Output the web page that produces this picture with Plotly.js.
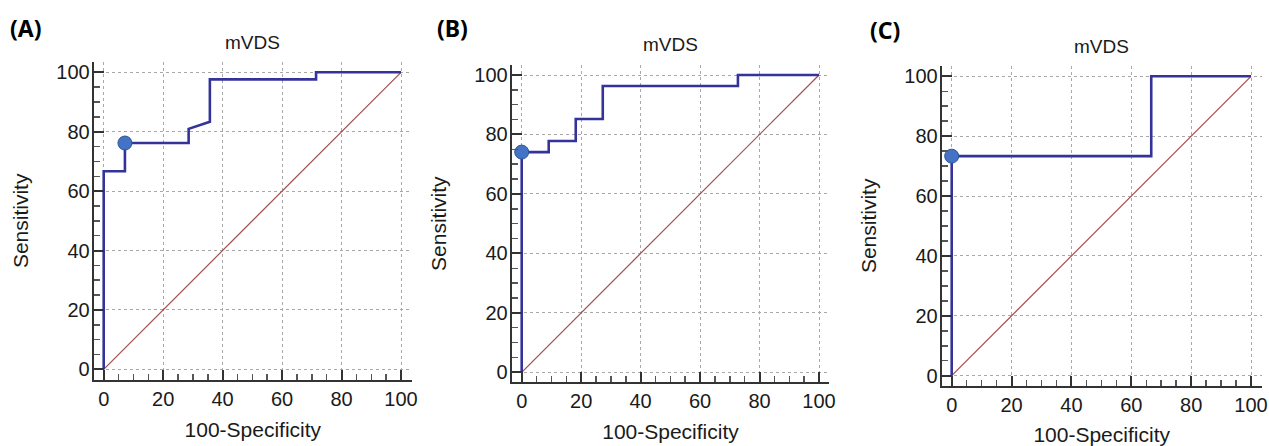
<!DOCTYPE html>
<html>
<head>
<meta charset="utf-8">
<script src="https://cdn.plot.ly/plotly-3.0.1.min.js"></script>
<style>html,body{margin:0;padding:0;background:#fff;} #chart{width:1269px;height:446px;}</style>
</head>
<body>
<div id="chart"></div>
<script>
// ---- data ----
const panelLabels = ["(A)", "(B)", "(C)"];
const panelTitle = "mVDS";
const xAxisTitle = "100-Specificity";
const yAxisTitle = "Sensitivity";
const tickVals = [0, 20, 40, 60, 80, 100];

// Panel A: 42 positives, 14 negatives
const rocA_x = [0, 0, 7.14, 7.14, 28.57, 28.57, 35.71, 35.71, 71.43, 71.43, 100];
const rocA_y = [0, 66.67, 66.67, 76.19, 76.19, 80.95, 83.33, 97.62, 97.62, 100, 100];
const cutA_x = [7.14];
const cutA_y = [76.19];

// Panel B: 27 positives, 11 negatives
const rocB_x = [0, 0, 9.09, 9.09, 18.18, 18.18, 27.27, 27.27, 72.73, 72.73, 100];
const rocB_y = [0, 74.07, 74.07, 77.78, 77.78, 85.19, 85.19, 96.30, 96.30, 100, 100];
const cutB_x = [0];
const cutB_y = [74.07];

// Panel C: 15 positives, 3 negatives
const rocC_x = [0, 0, 66.67, 66.67, 100];
const rocC_y = [0, 73.33, 73.33, 100, 100];
const cutC_x = [0];
const cutC_y = [73.33];

const refLine_x = [0, 100];
const refLine_y = [0, 100];

// ---- layout geometry (pixels in the 1269x446 page) ----
const W = 1269, H = 446;
const panels = [
  {x0: 103.7, x100: 401.0, left: 93.7, right: 412.0, y0: 369.3, y100: 72.3, top: 61.7, bottom: 380.0,
   titleY: 42, letterX: 26, letterY: 28},
  {x0: 521.7, x100: 819.0, left: 511.7, right: 829.3, y0: 372.3, y100: 75.0, top: 65.0, bottom: 382.3,
   titleY: 45, letterX: 452, letterY: 28},
  {x0: 951.7, x100: 1251.0, left: 941.7, right: 1261.7, y0: 375.7, y100: 76.3, top: 65.7, bottom: 386.0,
   titleY: 47, letterX: 885, letterY: 30}
];

const rocX = [rocA_x, rocB_x, rocC_x];
const rocY = [rocA_y, rocB_y, rocC_y];
const cutX = [cutA_x, cutB_x, cutC_x];
const cutY = [cutA_y, cutB_y, cutC_y];

const FONT = "Liberation Sans, Arial, sans-serif";
const data = [];
const layout = {
  width: W, height: H,
  margin: {l: 0, r: 0, t: 0, b: 0},
  paper_bgcolor: "#ffffff", plot_bgcolor: "#ffffff",
  showlegend: false,
  annotations: []
};

panels.forEach((p, i) => {
  const sfx = i === 0 ? "" : String(i + 1);
  const xa = "x" + sfx, ya = "y" + sfx;
  const sx = (p.x100 - p.x0) / 100, sy = (p.y0 - p.y100) / 100;
  const xr = [(p.left - p.x0) / sx, (p.right - p.x0) / sx];
  const yr = [(p.y0 - p.bottom) / sy, (p.y0 - p.top) / sy];

  const axCommon = {
    tickmode: "array", tickvals: tickVals, ticktext: tickVals.map(String),
    ticks: "inside", ticklen: 10, tickwidth: 2, tickcolor: "#333333",
    showline: true, linecolor: "#333333", linewidth: 2,
    showgrid: true, gridcolor: "#a8a8a8", gridwidth: 1, griddash: "dot",
    zeroline: false, fixedrange: true,
    tickfont: {family: FONT, size: 20, color: "#1a1a1a"},
    minor: {dtick: 5, tick0: 0, ticks: "inside", ticklen: 6, tickwidth: 1.5, tickcolor: "#555555", showgrid: false}
  };

  layout["xaxis" + sfx] = Object.assign({}, axCommon, {
    anchor: ya, domain: [p.left / W, p.right / W], range: xr,
    title: {text: xAxisTitle, font: {family: FONT, size: 21, color: "#1a1a1a"}, standoff: 13}
  });
  layout["yaxis" + sfx] = Object.assign({}, axCommon, {
    anchor: xa, domain: [1 - p.bottom / H, 1 - p.top / H], range: yr,
    ticklabelstandoff: -2,
    title: {text: yAxisTitle, font: {family: FONT, size: 21, color: "#1a1a1a"}, standoff: 22}
  });

  data.push({
    x: refLine_x, y: refLine_y, xaxis: xa, yaxis: ya, mode: "lines", type: "scatter",
    line: {color: "#a84a4a", width: 1.2}, hoverinfo: "skip"
  });
  data.push({
    x: rocX[i], y: rocY[i], xaxis: xa, yaxis: ya, mode: "lines", type: "scatter",
    line: {color: "#33339a", width: 2.6}, hoverinfo: "x+y"
  });
  data.push({
    x: cutX[i], y: cutY[i], xaxis: xa, yaxis: ya, mode: "markers", type: "scatter",
    marker: {color: "#4472c4", size: 14, line: {color: "#2f5597", width: 1}}, hoverinfo: "x+y"
  });

  layout.annotations.push({
    text: panelTitle, xref: "paper", yref: "paper",
    x: (p.x0 + p.x100) / 2 / W, y: 1 - p.titleY / H, xanchor: "center", yanchor: "middle",
    showarrow: false, font: {family: FONT, size: 19, color: "#1a1a1a"}
  });
  layout.annotations.push({
    text: "<b>" + panelLabels[i] + "</b>", xref: "paper", yref: "paper",
    x: p.letterX / W, y: 1 - p.letterY / H, xanchor: "center", yanchor: "middle",
    showarrow: false, font: {family: "Noto Sans, sans-serif", size: 23, color: "#000000"}
  });
});

Plotly.newPlot("chart", data, layout, {displayModeBar: false, staticPlot: true});
</script>
</body>
</html>
